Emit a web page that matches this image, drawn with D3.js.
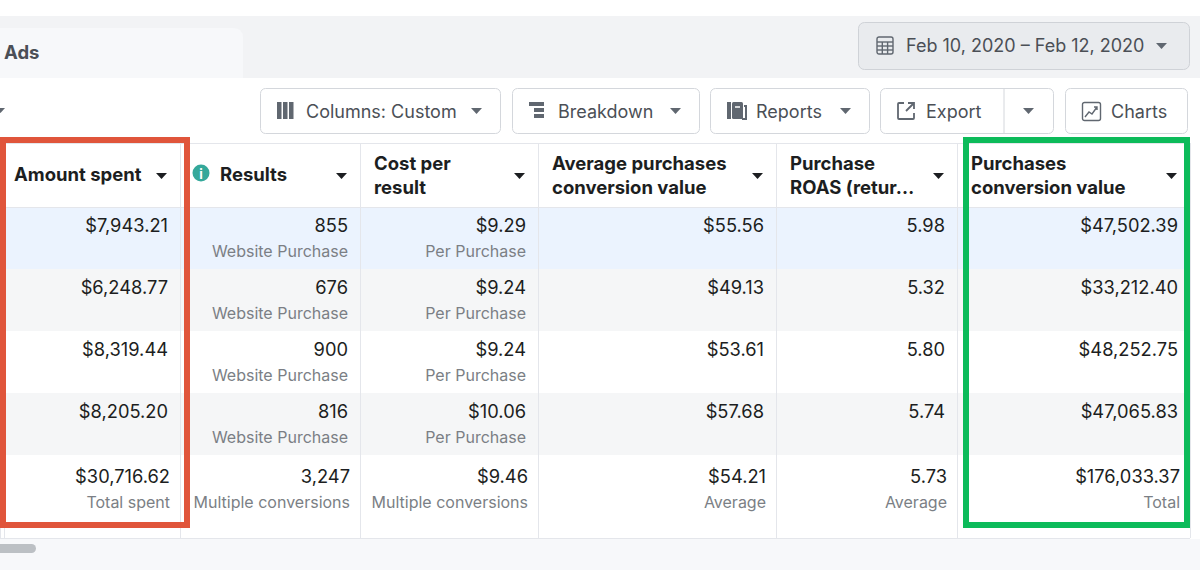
<!DOCTYPE html>
<html>
<head>
<meta charset="utf-8">
<script src="https://cdn.jsdelivr.net/npm/d3@7"></script>
<style>
  body { margin: 0; background: #fff; }
  svg { display: block; font-family: Inter, "Noto Sans", sans-serif; }
</style>
</head>
<body>
<div id="chart"></div>
<script>
// table values
const headers = [["Amount spent"], ["Results"], ["Cost per", "result"],
    ["Average purchases", "conversion value"], ["Purchase", "ROAS (retur…"],
    ["Purchases", "conversion value"]];
const amountSpent = [7943.21, 6248.77, 8319.44, 8205.20];
const results = [855, 676, 900, 816];
const costPerResult = [9.29, 9.24, 9.24, 10.06];
const avgConvValue = [55.56, 49.13, 53.61, 57.68];
const roas = [5.98, 5.32, 5.80, 5.74];
const convValue = [47502.39, 33212.40, 48252.75, 47065.83];
const totals = [30716.62, 3247, 9.46, 54.21, 5.73, 176033.37];
const totalLabels = ["Total spent", "Multiple conversions", "Multiple conversions", "Average", "Average", "Total"];
const rowSubs = [null, "Website Purchase", "Per Purchase", null, null, null];
const toolbarButtons = ["Columns: Custom", "Breakdown", "Reports", "Export", "Charts"];
const dateRange = "Feb 10, 2020 – Feb 12, 2020";
const tabLabel = "Ads";

const money = d3.format("$,.2f");
const count = d3.format(",");
const ratio = d3.format(".2f");
const formats = [money, count, money, money, ratio, money];
const columns = [amountSpent, results, costPerResult, avgConvValue, roas, convValue];

const width = 1200, height = 570;
const colEdges = [0, 180, 360, 538, 776, 957, 1190];
const headerTop = 143, headerBottom = 207, totalBottom = 538;

const svg = d3.select("#chart").append("svg")
    .attr("width", width)
    .attr("height", height);

// page background
svg.append("rect").attr("width", width).attr("height", height).attr("fill", "#fff");
svg.append("rect").attr("y", 16).attr("width", width).attr("height", 62).attr("fill", "#f2f3f5");
svg.append("path")
    .attr("d", "M0,28 H233 Q243,28 243,38 V78 H0 Z")
    .attr("fill", "#f7f8fa");
svg.append("text").attr("x", 4).attr("y", 59)
    .attr("font-size", 18.5).attr("font-weight", 700).attr("fill", "#4b4f56")
    .text(tabLabel);

// date picker
const dp = svg.append("g").attr("transform", "translate(858,22)");
dp.append("rect").attr("x", 0.5).attr("y", 0.5).attr("width", 331).attr("height", 47).attr("rx", 6)
    .attr("fill", "#e9ebee").attr("stroke", "#cfd2d7");
const cal = dp.append("g").attr("transform", "translate(19,15)").attr("fill", "none").attr("stroke", "#606770").attr("stroke-width", 1.4);
cal.append("rect").attr("width", 16).attr("height", 17).attr("rx", 2);
[5, 9, 13].forEach(y => cal.append("line").attr("x1", 0).attr("x2", 16).attr("y1", y).attr("y2", y));
[5.3, 10.6].forEach(x => cal.append("line").attr("x1", x).attr("x2", x).attr("y1", 5).attr("y2", 17));
dp.append("text").attr("x", 48).attr("y", 30).attr("font-size", 18).attr("fill", "#4b4f56").text(dateRange);
dp.append("path").attr("d", "M298,21 h11 l-5.5,6 z").attr("fill", "#606770");

// leftover caret at far left of toolbar
svg.append("path").attr("d", "M-4,108 h9 l-4.5,5 z").attr("fill", "#606770");

// toolbar buttons
const btnX = d3.scaleOrdinal().domain(toolbarButtons).range([260, 512, 710, 880, 1065]);
const btnW = d3.scaleOrdinal().domain(toolbarButtons).range([241, 188, 160, 174, 123]);
const btn = svg.selectAll("g.btn").data(toolbarButtons).enter().append("g")
    .attr("class", "btn")
    .attr("transform", d => `translate(${btnX(d)},88)`);
btn.append("rect").attr("x", 0.5).attr("y", 0.5)
    .attr("width", d => btnW(d) - 1).attr("height", 45).attr("rx", 5)
    .attr("fill", "#fff").attr("stroke", "#d4d7dc");
btn.append("text").attr("x", 46).attr("y", 30)
    .attr("font-size", 18).attr("fill", "#4b4f56").text(d => d);
btn.filter(d => d !== "Charts" && d !== "Export").append("path")
    .attr("d", d => { const x = btnW(d) - 30; return `M${x},20 h11 l-5.5,6 z`; })
    .attr("fill", "#606770");
// export split
btn.filter(d => d === "Export").each(function(d) {
    const g = d3.select(this);
    g.append("line").attr("x1", 124).attr("x2", 124).attr("y1", 1).attr("y2", 45).attr("stroke", "#d4d7dc");
    g.append("path").attr("d", "M143,20 h11 l-5.5,6 z").attr("fill", "#606770");
});

// icons
const ic = d => btn.filter(e => e === d).append("g").attr("transform", "translate(17,14)");
const iCols = ic("Columns: Custom");
[0, 6, 12].forEach(x => iCols.append("rect").attr("x", x).attr("width", 4.5).attr("height", 17).attr("fill", "#606770"));
const iBrk = ic("Breakdown");
iBrk.append("rect").attr("x", 0).attr("width", 15).attr("height", 4).attr("fill", "#606770");
iBrk.append("rect").attr("x", 5).attr("y", 6).attr("width", 10).attr("height", 4).attr("fill", "#606770");
iBrk.append("rect").attr("x", 5).attr("y", 12).attr("width", 10).attr("height", 4).attr("fill", "#606770");
const iRep = ic("Reports");
iRep.append("rect").attr("width", 4).attr("height", 17).attr("fill", "#606770");
iRep.append("rect").attr("x", 5).attr("width", 11).attr("height", 17).attr("rx", 1.5).attr("fill", "#606770");
iRep.append("path").attr("d", "M17,4 h2 v13 h-4").attr("fill", "none").attr("stroke", "#606770").attr("stroke-width", 2);
iRep.append("line").attr("x1", 8).attr("x2", 13).attr("y1", 5).attr("y2", 5).attr("stroke", "#fff").attr("stroke-width", 1.5);
const iExp = ic("Export").attr("fill", "none").attr("stroke", "#606770").attr("stroke-width", 1.8);
iExp.append("path").attr("d", "M7,1 H2 Q1,1 1,2 V16 Q1,17 2,17 H16 Q17,17 17,16 V11");
iExp.append("path").attr("d", "M11,1 H17 V7 M17,1 L9,9");
const iCh = ic("Charts").attr("fill", "none").attr("stroke", "#606770").attr("stroke-width", 1.4);
iCh.append("rect").attr("x", 0.5).attr("y", 0.5).attr("width", 18).attr("height", 18).attr("rx", 2);
iCh.append("path").attr("d", "M3,15 L7,10 L10,12 L15,5 M12,5 H15 V8");

// table
const x = i => colEdges[i];
const y = d3.scaleBand().domain(d3.range(amountSpent.length)).range([headerBottom, 455]);
const rowFill = ["#ebf3fe", "#f5f6f7", "#ffffff", "#f5f6f7"];

svg.append("rect").attr("y", headerTop).attr("width", 1190).attr("height", headerBottom - headerTop).attr("fill", "#fff");
svg.selectAll("rect.row").data(y.domain()).enter().append("rect")
    .attr("class", "row")
    .attr("x", 0).attr("y", d => y(d))
    .attr("width", 1190).attr("height", y.bandwidth())
    .attr("fill", (d, i) => rowFill[i]);

// grid lines
const grid = svg.append("g").attr("stroke", "#e4e6eb").attr("stroke-width", 1);
colEdges.forEach(cx => grid.append("line").attr("x1", cx + 0.5).attr("x2", cx + 0.5)
    .attr("y1", headerTop).attr("y2", totalBottom));
[headerTop, headerBottom, totalBottom].forEach(ly => grid.append("line")
    .attr("x1", 0).attr("x2", 1190).attr("y1", ly + 0.5).attr("y2", ly + 0.5));
grid.append("line").attr("x1", 4.5).attr("x2", 4.5).attr("y1", headerTop).attr("y2", totalBottom);

// headers
headers.forEach((lines, i) => {
    const g = svg.append("g");
    const tx = x(i) + (i === 1 ? 40 : 14);
    const lineYs = lines.length === 1 ? [181] : [170, 194];
    lines.forEach((t, k) => g.append("text")
        .attr("x", tx).attr("y", lineYs[k])
        .attr("font-size", 18.5).attr("font-weight", 700).attr("fill", "#1c1e21").text(t));
    g.append("path")
        .attr("d", `M${x(i + 1) - 24},173 h11 l-5.5,6 z`).attr("fill", "#1c1e21");
});
// info icon
svg.append("circle").attr("cx", 201).attr("cy", 173).attr("r", 8.5).attr("fill", "#34a89a");
svg.append("text").attr("x", 201).attr("y", 178.5).attr("text-anchor", "middle")
    .attr("font-size", 13).attr("font-weight", 700).attr("fill", "#fff").text("i");

// body cells
columns.forEach((vals, c) => {
    const right = x(c + 1) - 12;
    svg.selectAll(null).data(vals).enter().append("text")
        .attr("x", right).attr("y", (d, r) => y(r) + 25)
        .attr("text-anchor", "end").attr("font-size", 18.3).attr("fill", "#1c1e21")
        .text(d => formats[c](d));
    if (rowSubs[c]) {
        svg.selectAll(null).data(vals).enter().append("text")
            .attr("x", right).attr("y", (d, r) => y(r) + 50)
            .attr("text-anchor", "end").attr("font-size", 16).attr("fill", "#7b7f85")
            .text(rowSubs[c]);
    }
});

// total row
totals.forEach((v, c) => {
    const right = x(c + 1) - 10;
    svg.append("text").attr("x", right).attr("y", 483)
        .attr("text-anchor", "end").attr("font-size", 18.3).attr("fill", "#1c1e21")
        .text(formats[c](v));
    svg.append("text").attr("x", right).attr("y", 508)
        .attr("text-anchor", "end").attr("font-size", 16).attr("fill", "#7b7f85")
        .text(totalLabels[c]);
});

// scroll area
svg.append("rect").attr("y", 539).attr("width", width).attr("height", 31).attr("fill", "#f7f8fa");
svg.append("rect").attr("x", -6).attr("y", 544).attr("width", 42).attr("height", 9).attr("rx", 4.5).attr("fill", "#bcc0c4");

// highlight boxes
svg.append("rect").attr("x", 3).attr("y", 140).attr("width", 184).attr("height", 385)
    .attr("fill", "none").attr("stroke", "#e0553b").attr("stroke-width", 6);
svg.append("rect").attr("x", 966).attr("y", 140).attr("width", 221).attr("height", 385)
    .attr("fill", "none").attr("stroke", "#0cbb5a").attr("stroke-width", 6);
</script>
</body>
</html>
